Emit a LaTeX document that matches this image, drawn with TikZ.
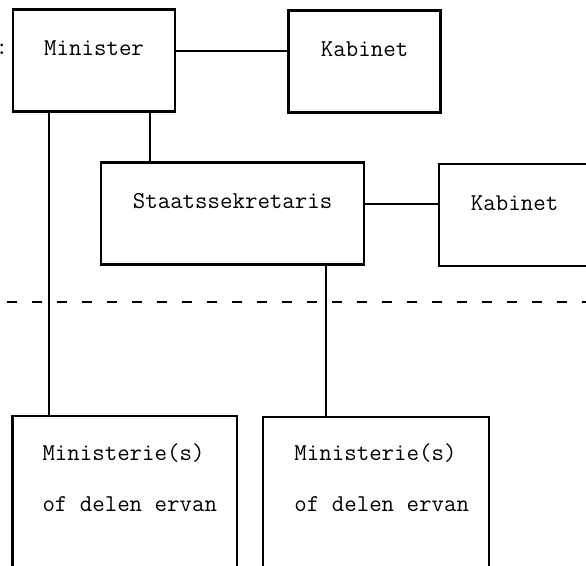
\documentclass[tikz,border=0pt]{standalone}
\usetikzlibrary{positioning,calc}

\begin{document}
\begin{tikzpicture}[x=0.5pt, y=-0.5pt, line width=1pt,
    box/.style={draw, line width=1.1pt, anchor=north west, inner xsep=0pt,
      inner ysep=0pt, text height=23pt, text depth=28pt,
      font=\fontsize{12.1pt}{25pt}\selectfont\ttfamily},
    txt/.style={anchor=base west, inner sep=0pt,
      font=\fontsize{12.1pt}{25pt}\selectfont\ttfamily},
    sep/.style={line width=0.65pt, dash pattern=on 5pt off 7.5pt,
      dash phase=9.15pt}]
  \useasboundingbox (0,0) rectangle (586,566);
  \clip (0,0) rectangle (586,566);
  \node[txt] (colon) at (-5.3,54.5) {:};
  \node[box, minimum width=81pt] (min) at (12,8.5) {Minister};
  \node[box, minimum width=76pt] (kab1) at (287.5,9.5) {Kabinet};
  \node[box, minimum width=131.5pt] (staats) at (100,161.5)
    {Staatssekretaris};
  \node[box, minimum width=75.5pt] (kab2) at (438,163) {Kabinet};
  \node[box, text height=0pt, text depth=0pt, minimum width=112.25pt,
    minimum height=92.5pt] (m1) at (11.5,415) {};
  \node[box, text height=0pt, text depth=0pt, minimum width=113pt,
    minimum height=92.5pt] (m2) at (262,416) {};
  \node[txt] (m1a) at ($(m1.north west)+(30,46)$) {Ministerie(s)};
  \node[txt] (m1b) at ($(m1.north west)+(30,96.7)$) {of delen ervan};
  \node[txt] (m2a) at ($(m2.north west)+(31.5,45)$) {Ministerie(s)};
  \node[txt] (m2b) at ($(m2.north west)+(31.5,95.7)$) {of delen ervan};

  \draw[sep] (0,302) -- (600,302);

  \draw (min.mid east) -- (min.mid east -| kab1.west);
  \draw (staats.mid east) -- (staats.mid east -| kab2.west);
  \coordinate (ml) at ([xshift=18.5pt]min.south west);
  \draw (ml) -- (ml |- m1.north);
  \coordinate (ms) at ([xshift=25pt]staats.north west);
  \draw (ms |- min.south) -- (ms);
  \coordinate (sm) at ([xshift=32pt]m2.north west);
  \draw (sm |- staats.south) -- (sm);
\end{tikzpicture}
\end{document}
